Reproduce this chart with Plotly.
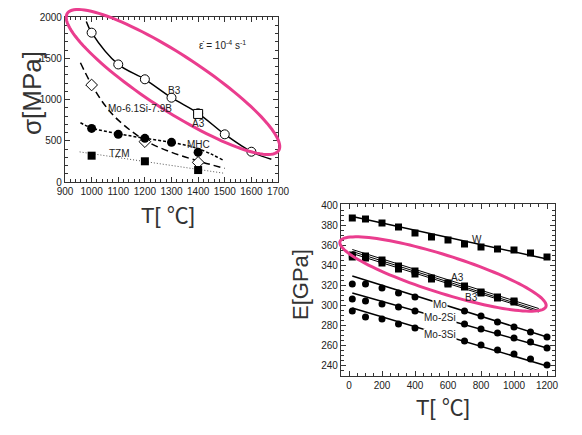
import numpy as np
import plotly.graph_objects as go

PAGE_W, PAGE_H = 582, 435
OFF = 8  # default page body margin
W, H = PAGE_W - OFF, PAGE_H - OFF

def px(x):
    return (x - OFF) / W

def py(y):
    return 1 - (y - OFF) / H

# ---------------- Left chart data (strength vs temperature) ----------------
b3_T = [1000, 1100, 1200, 1300, 1400, 1500, 1600]
b3_s = [1810, 1425, 1245, 1022, 833, 578, 367]
b3_curve_T = [980, 1000, 1100, 1200, 1300, 1400, 1500, 1600, 1675]
b3_curve_s = [1945, 1810, 1425, 1245, 1022, 833, 578, 367, 275]
a3_T = [1400]
a3_s = [825]
mosib_T = [1000, 1200, 1400]
mosib_s = [1176, 489, 238]
mosib_curve_T = [958, 1000, 1050, 1100, 1200, 1300, 1400, 1500]
mosib_curve_s = [1445, 1180, 930, 750, 505, 360, 255, 165]
mhc_T = [1000, 1100, 1200, 1300, 1400]
mhc_s = [650, 578, 529, 481, 360]
mhc_curve_T = [958, 1000, 1100, 1200, 1300, 1400, 1492]
mhc_curve_s = [718, 655, 585, 530, 480, 405, 268]
tzm_T = [1000, 1200, 1400]
tzm_s = [319, 251, 145]
tzm_curve_T = [955, 1200, 1500]
tzm_curve_s = [365, 250, 105]

# ---------------- Right chart data (modulus vs temperature) ----------------
e_T = [20, 100, 200, 300, 400, 500, 600, 700, 800, 900, 1000, 1100, 1200]
w_E = [387, 386, 382, 378, 372, 368, 365, 361, 358, 356, 355, 352, 348]
w_line_T = [20, 1200]
w_line_E = [388.5, 346]
a3_eT = [20, 100, 200, 300, 400, 500, 600, 700, 800, 900, 1000]
a3_E = [348, 349, 345, 339, 334, 327, 322, 319, 313, 308, 304]
b3_E = [350, 347, 342, 336, 331, 326, 321, 318, 312, 307, 303]
ab_line_T = [20, 1150]
a3_line_E = [355.5, 296.5]
b3_line_E = [353.5, 294.5]
ab3_line_E = [351.5, 293]
mo_eT = [20, 100, 200, 300, 400, 700, 800, 900, 1000, 1100, 1200]
mo_E = [321, 321, 317, 312, 308, 294, 289, 283, 278, 273, 268]
mo2_E = [306, 304, 301, 298, 294, 281, 276, 272, 267, 263, 257]
mo3_E = [294, 288, 286, 281, 277, 264, 260, 255, 251, 246, 240]
mo_line_E = [329, 268]
mo2_line_E = [312, 257]
mo3_line_E = [297, 239]
line_T = [20, 1200]

fig = go.Figure()

# ---- left traces
fig.add_trace(go.Scatter(x=b3_curve_T, y=b3_curve_s, mode="lines", line=dict(color="black", width=1.5, shape="spline"), xaxis="x", yaxis="y"))
fig.add_trace(go.Scatter(x=mosib_curve_T, y=mosib_curve_s, mode="lines", line=dict(color="black", width=1.5, shape="spline", dash="7px,4px"), xaxis="x", yaxis="y"))
fig.add_trace(go.Scatter(x=mhc_curve_T, y=mhc_curve_s, mode="lines", line=dict(color="black", width=1.5, shape="spline", dash="3px,2px"), xaxis="x", yaxis="y"))
fig.add_trace(go.Scatter(x=tzm_curve_T, y=tzm_curve_s, mode="lines", line=dict(color="#555", width=1, dash="1px,2px"), xaxis="x", yaxis="y"))
fig.add_trace(go.Scatter(x=b3_T, y=b3_s, mode="markers", marker=dict(symbol="circle", size=9, color="white", line=dict(color="black", width=1)), xaxis="x", yaxis="y"))
fig.add_trace(go.Scatter(x=a3_T, y=a3_s, mode="markers", marker=dict(symbol="square", size=9, color="white", line=dict(color="black", width=1)), xaxis="x", yaxis="y"))
fig.add_trace(go.Scatter(x=mosib_T, y=mosib_s, mode="markers", marker=dict(symbol="diamond", size=9, color="white", line=dict(color="black", width=1)), xaxis="x", yaxis="y"))
fig.add_trace(go.Scatter(x=mhc_T, y=mhc_s, mode="markers", marker=dict(symbol="circle", size=9, color="black"), xaxis="x", yaxis="y"))
fig.add_trace(go.Scatter(x=tzm_T, y=tzm_s, mode="markers", marker=dict(symbol="square", size=8, color="black"), xaxis="x", yaxis="y"))

# ---- right traces
for ly in (a3_line_E, b3_line_E, ab3_line_E):
    fig.add_trace(go.Scatter(x=ab_line_T, y=ly, mode="lines", line=dict(color="black", width=1), xaxis="x2", yaxis="y2"))
fig.add_trace(go.Scatter(x=w_line_T, y=w_line_E, mode="lines", line=dict(color="black", width=1.5), xaxis="x2", yaxis="y2"))
for ly in (mo_line_E, mo2_line_E, mo3_line_E):
    fig.add_trace(go.Scatter(x=line_T, y=ly, mode="lines", line=dict(color="black", width=1.5), xaxis="x2", yaxis="y2"))
fig.add_trace(go.Scatter(x=e_T, y=w_E, mode="markers", marker=dict(symbol="square", size=7, color="black"), xaxis="x2", yaxis="y2"))
fig.add_trace(go.Scatter(x=a3_eT, y=a3_E, mode="markers", marker=dict(symbol="square", size=7, color="black"), xaxis="x2", yaxis="y2"))
fig.add_trace(go.Scatter(x=a3_eT, y=b3_E, mode="markers", marker=dict(symbol="square", size=7, color="black"), xaxis="x2", yaxis="y2"))
for ys in (mo_E, mo2_E, mo3_E):
    fig.add_trace(go.Scatter(x=mo_eT, y=ys, mode="markers", marker=dict(symbol="circle", size=7, color="black"), xaxis="x2", yaxis="y2"))

tickfont = dict(family="Liberation Sans Narrow, Arial Narrow, Liberation Sans, sans-serif", size=10, color="#222")
axcommon = dict(showgrid=False, zeroline=False, showline=True, linecolor="#333", linewidth=1.2, automargin=False,
                mirror="ticks", ticks="inside", ticklen=5, tickcolor="#333", tickfont=tickfont)

fig.update_layout(
    width=W, height=H, margin=dict(l=0, r=0, t=0, b=0, autoexpand=False),
    paper_bgcolor="white", plot_bgcolor="white", showlegend=False,
    xaxis=dict(domain=[px(65), px(278)], range=[900, 1700], dtick=100, tick0=900,
               minor=dict(dtick=20, ticklen=3, ticks="inside", tickcolor="#333"), anchor="y", **axcommon),
    yaxis=dict(domain=[py(182), py(17)], range=[0, 2000], dtick=500,
               minor=dict(dtick=100, ticklen=3, ticks="inside", tickcolor="#333"), anchor="x", **axcommon),
    xaxis2=dict(domain=[px(341), px(555)], range=[-48.5, 1248.5], dtick=200, tick0=0,
                minor=dict(dtick=50, ticklen=3, ticks="inside", tickcolor="#333"), anchor="y2", **axcommon),
    yaxis2=dict(domain=[py(376), py(204)], range=[229, 401], dtick=20, tick0=240,
                minor=dict(dtick=5, ticklen=3, ticks="inside", tickcolor="#333"), anchor="x2", **axcommon),
)

lblfont = dict(family="Liberation Sans Narrow, Arial Narrow, Liberation Sans, sans-serif", size=10, color="#222")
ann = []
def lab(x, y, t, ax="x", ay="y", bg=None):
    d = dict(x=x, y=y, text=t, xref=ax, yref=ay, showarrow=False, font=lblfont,
             xanchor="center", yanchor="middle")
    if bg:
        d["bgcolor"] = bg
        d["borderpad"] = 0
    ann.append(d)

lab(1313, 1115, "B3")
lab(1403, 715, "A3")
lab(1182, 885, "Mo-6.1Si-7.9B")
lab(1400, 460, "MHC")
lab(1103, 340, "TZM")
lab(1490, 1660, "ε̇ = 10<sup>-4</sup> s<sup>-1</sup>")

lab(778, 366, "W", "x2", "y2")
lab(659, 328, "A3", "x2", "y2")
lab(744, 308, "B3", "x2", "y2")
lab(551, 300.5, "Mo", "x2", "y2", "white")
lab(551, 287.5, "Mo-2Si", "x2", "y2", "white")
lab(551, 270.5, "Mo-3Si", "x2", "y2", "white")

titlefont = dict(family="Liberation Sans, Noto Sans CJK JP, sans-serif", color="#333")
def title(x, y, t, size, angle=0):
    ann.append(dict(x=px(x), y=py(y), xref="paper", yref="paper", text=t, textangle=angle,
                    xanchor="center", yanchor="middle", showarrow=False, font=dict(size=size, **titlefont)))

title(32, 93, "σ[MPa]", 26, -90)
title(168, 215, "T[ ℃]", 22)
title(300, 285, "E[GPa]", 22, -90)
title(443, 407, "T[ ℃]", 22)
fig.update_layout(annotations=ann)

# highlight ellipses (pixel geometry -> paper coordinates)
def ellipse_path(cx, cy, a, b, ang):
    t = np.linspace(0, 2 * np.pi, 120)
    r = np.deg2rad(ang)
    ex = cx + a * np.cos(t) * np.cos(r) - b * np.sin(t) * np.sin(r)
    ey = cy + a * np.cos(t) * np.sin(r) + b * np.sin(t) * np.cos(r)
    pts = [f"{px(x):.5f},{py(y):.5f}" for x, y in zip(ex, ey)]
    return "M " + " L ".join(pts) + " Z"

pink = "#EA3D8E"
fig.update_layout(shapes=[
    dict(type="path", xref="paper", yref="paper", path=ellipse_path(173, 82, 126, 28, 33), line=dict(color=pink, width=3)),
    dict(type="path", xref="paper", yref="paper", path=ellipse_path(443, 274, 108, 19, 17.5), line=dict(color=pink, width=3)),
])

fig.write_html("out.html")
